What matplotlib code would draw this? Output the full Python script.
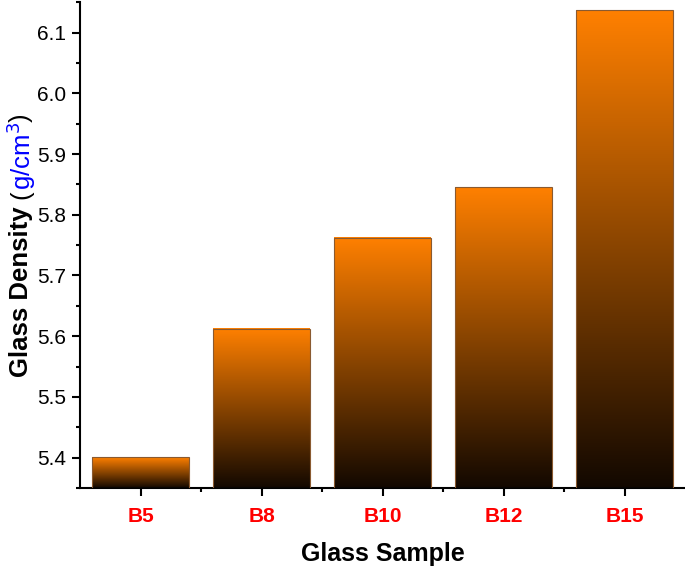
import numpy as np
import matplotlib.pyplot as plt
from matplotlib.colors import LinearSegmentedColormap
from matplotlib.ticker import MultipleLocator, FixedLocator

samples = ['B5', 'B8', 'B10', 'B12', 'B15']
density = [5.401, 5.612, 5.762, 5.845, 6.137]

plt.rcParams['font.family'] = ['Liberation Sans', 'DejaVu Sans']

fig = plt.figure(figsize=(6.85, 5.68), dpi=100)
ax = fig.add_axes([0.117, 0.141, 0.883, 0.855])

ymin, ymax = 5.35, 6.15
width = 0.8
cmap = LinearSegmentedColormap.from_list('orblk', ['#120800', '#ff8000'])
grad = np.linspace(0, 1, 256).reshape(-1, 1)

x = np.arange(len(samples))
for xi, v in zip(x, density):
    ax.imshow(grad, cmap=cmap, origin='lower', aspect='auto',
              extent=[xi - width / 2, xi + width / 2, ymin, v], zorder=2)
ax.bar(x, [v - ymin for v in density], bottom=ymin, width=width,
       facecolor='none', edgecolor='#8a5a30', linewidth=0.8, zorder=3)

ax.set_xlim(-0.5, len(samples) - 0.5)
ax.set_ylim(ymin, ymax)

for s in ['top', 'right']:
    ax.spines[s].set_visible(False)
for s in ['left', 'bottom']:
    ax.spines[s].set_linewidth(1.5)

ax.set_xticks(x)
ax.set_xticklabels(samples, color='#ff0000', fontweight='bold', fontsize=15)
ax.xaxis.set_minor_locator(FixedLocator(x[:-1] + 0.5))
ax.yaxis.set_major_locator(MultipleLocator(0.1))
ax.yaxis.set_minor_locator(MultipleLocator(0.05))
ax.tick_params(axis='both', which='major', direction='out', length=6, width=1.5)
ax.tick_params(axis='y', which='major', labelsize=15, pad=4)
ax.tick_params(axis='x', which='major', pad=8)
ax.tick_params(axis='both', which='minor', direction='out', length=3, width=1.5)

ax.set_xlabel('Glass Sample', fontsize=18, fontweight='bold', labelpad=11)

# y label in pieces (bold black, regular black, blue)
fig.canvas.draw()
r = fig.canvas.get_renderer()
lx = 0.031
parts = [('Glass Density ', 'black', 'bold'), ('(', 'black', 'normal'),
         ('g/cm$^3$', 'blue', 'normal'), (')', 'black', 'normal')]
texts = []
for s, c, w in parts:
    t = fig.text(lx, 0, s, rotation=90, color=c, fontweight=w, fontsize=18.5,
                 ha='center', va='bottom')
    texts.append(t)
fig.canvas.draw()
heights = [t.get_window_extent(r).height for t in texts]
total = sum(heights)
fh = fig.bbox.height
ax_center = (0.141 + 0.141 + 0.855) / 2 * fh
y0 = ax_center - total / 2
for t, h in zip(texts, heights):
    t.set_position((lx, y0 / fh))
    y0 += h

fig.savefig('out.png', dpi=100)
